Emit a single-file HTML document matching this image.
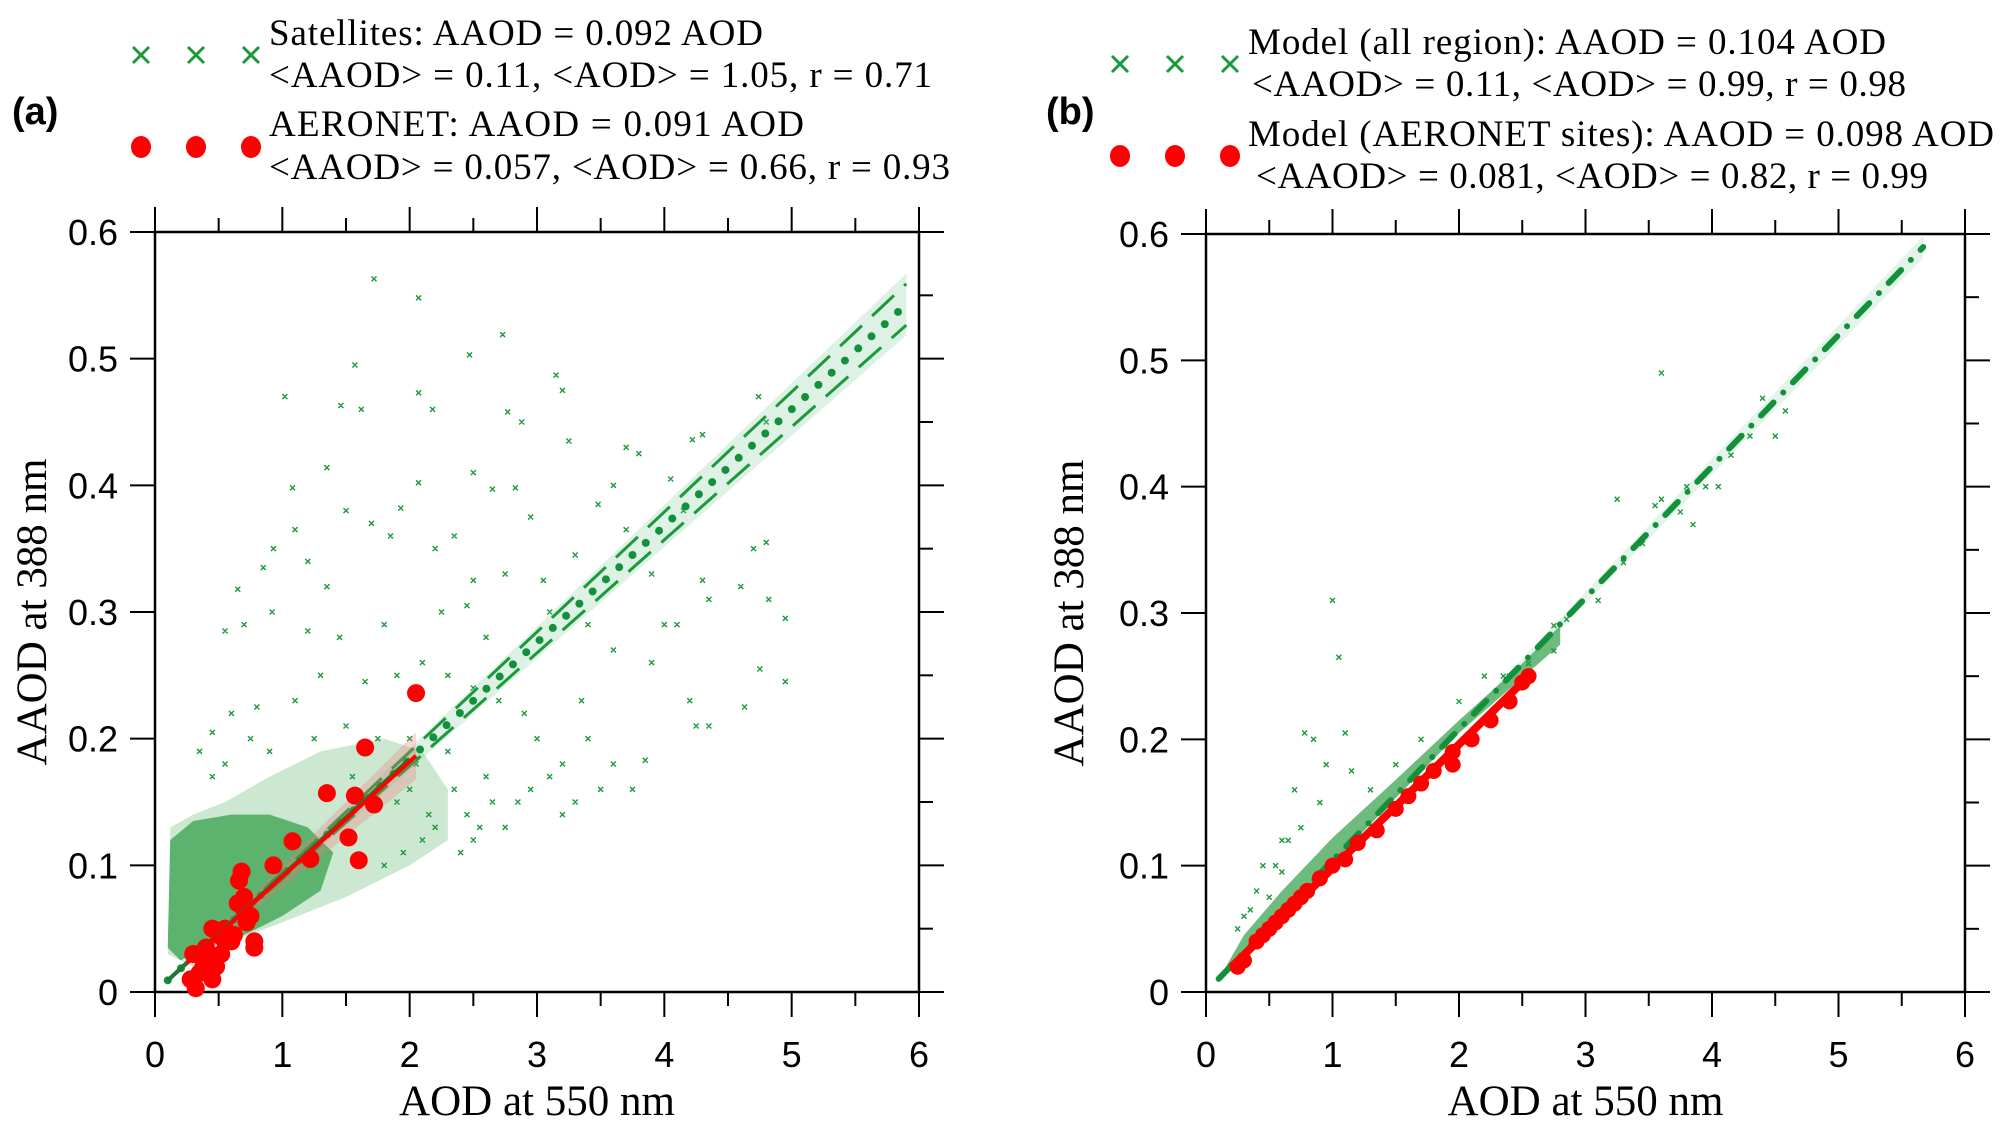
<!DOCTYPE html>
<html><head><meta charset="utf-8"><style>
html,body{margin:0;padding:0;background:#fff}
svg{display:block}
.tl{font-family:"Liberation Sans",sans-serif;font-size:36px;fill:#000}
.at{font-family:"Liberation Serif",serif;font-size:43px;fill:#000}
.lg{font-family:"Liberation Serif",serif;font-size:37px;fill:#000}
.pl{font-family:"Liberation Sans",sans-serif;font-size:38px;font-weight:bold;fill:#000}
</style></head><body>
<svg id="chart" width="2009" height="1137" viewBox="0 0 2009 1137" xmlns="http://www.w3.org/2000/svg">
<g id="panelA"></g>
<g id="panelB"></g>
<g>
 <text class="pl" x="12" y="124">(a)</text>
 <g stroke="#1a9a3a" stroke-width="3">
  <path d="M133 47 l16 16 M149 47 l-16 16 M188 47 l16 16 M204 47 l-16 16 M243 47 l16 16 M259 47 l-16 16"/>
 </g>
 <text class="lg" x="269" y="45" textLength="494">Satellites: AAOD = 0.092 AOD</text>
 <text class="lg" x="269" y="87" textLength="663">&lt;AAOD&gt; = 0.11, &lt;AOD&gt; = 1.05,  r = 0.71</text>
 <g fill="#f00">
  <ellipse cx="141" cy="147" rx="10" ry="11"/><ellipse cx="196" cy="147" rx="10" ry="11"/><ellipse cx="251" cy="147" rx="10" ry="11"/>
 </g>
 <text class="lg" x="269" y="136" textLength="535">AERONET: AAOD = 0.091 AOD</text>
 <text class="lg" x="269" y="179" textLength="681">&lt;AAOD&gt; = 0.057, &lt;AOD&gt; = 0.66, r = 0.93</text>
</g>
<g>
 <text class="pl" x="1046" y="124">(b)</text>
 <g stroke="#1a9a3a" stroke-width="3">
  <path d="M1112 56 l16 16 M1128 56 l-16 16 M1167 56 l16 16 M1183 56 l-16 16 M1222 56 l16 16 M1238 56 l-16 16"/>
 </g>
 <text class="lg" x="1248" y="54" textLength="638">Model (all region): AAOD = 0.104 AOD</text>
 <text class="lg" x="1252" y="96" textLength="654">&lt;AAOD&gt; = 0.11, &lt;AOD&gt; = 0.99, r = 0.98</text>
 <g fill="#f00">
  <ellipse cx="1120" cy="156" rx="10" ry="11"/><ellipse cx="1175" cy="156" rx="10" ry="11"/><ellipse cx="1230" cy="156" rx="10" ry="11"/>
 </g>
 <text class="lg" x="1248" y="146" textLength="746">Model (AERONET sites): AAOD = 0.098 AOD</text>
 <text class="lg" x="1256" y="188" textLength="672">&lt;AAOD&gt; = 0.081, &lt;AOD&gt; = 0.82, r = 0.99</text>
</g>
</svg>
<script>
const NS="http://www.w3.org/2000/svg";
const xTicks=[0,1,2,3,4,5,6];
const yTicks=[0,0.1,0.2,0.3,0.4,0.5,0.6];
const yTickLabels=["0","0.1","0.2","0.3","0.4","0.5","0.6"];
// Panel A data
const aSlopeSat=0.092, aSlopeAer=0.091;
const aSatRange=[0.1,5.9], aAerRange=[0.25,2.05];
const aSparseX=[1.72,2.07,1.57,2.47,2.73,1.02,1.46,1.62,2.07,2.18,2.77,2.88,3.15,3.2,1.08,1.35,2.07,1.93,2.5,2.65,2.83,2.95,3.25,3.7,3.8,3.6,3.48,4.22,4.3,4.05,4.15,4.74,4.8,0.93,1.1,1.2,0.85,0.55,0.65,1.35,1.5,1.7,1.85,2.2,2.35,2.5,2.75,3.05,3.3,3.7,3.9,4.3,4.35,4.6,4.7,4.8,4.82,4.95,0.7,0.92,1.2,1.45,1.8,2.25,2.45,2.6,3.1,3.4,4.0,4.1,3.6,3.9,4.2,4.25,4.35,4.63,4.75,4.95,3.85,3.5,3.2,3.0,3.4,2.9,2.7,2.5,2.3,2.1,1.9,1.65,1.3,1.1,0.8,0.6,0.45,0.55,0.75,1.5,2.0,2.3,2.6,2.85,3.1,3.3,2.75,2.5,2.4,2.2,2.1,1.9,2.0,1.75,1.25,0.9,3.35,3.6,3.75,2.35,2.45,2.15,1.95,1.8,2.55,2.65,2.95,3.2,2.05,1.55,1.35,0.35,0.45];
const aSparseY=[0.563,0.548,0.495,0.503,0.519,0.47,0.463,0.46,0.473,0.46,0.458,0.45,0.487,0.475,0.398,0.414,0.402,0.382,0.41,0.397,0.398,0.375,0.435,0.43,0.425,0.4,0.385,0.436,0.44,0.405,0.38,0.47,0.45,0.35,0.365,0.34,0.335,0.285,0.318,0.32,0.38,0.37,0.36,0.35,0.36,0.325,0.33,0.325,0.345,0.365,0.33,0.325,0.31,0.32,0.35,0.355,0.31,0.295,0.29,0.3,0.285,0.28,0.29,0.3,0.305,0.28,0.3,0.29,0.29,0.29,0.27,0.26,0.23,0.21,0.21,0.225,0.255,0.245,0.183,0.16,0.18,0.2,0.2,0.22,0.23,0.24,0.25,0.26,0.25,0.245,0.25,0.23,0.225,0.22,0.205,0.18,0.2,0.21,0.2,0.19,0.17,0.15,0.17,0.15,0.13,0.12,0.11,0.13,0.12,0.15,0.16,0.2,0.2,0.19,0.23,0.18,0.16,0.16,0.14,0.14,0.11,0.1,0.13,0.15,0.16,0.14,0.18,0.17,0.16,0.19,0.17];
const aOuterX=[0.1,0.12,0.3,0.55,0.9,1.3,1.8,2.1,2.3,2.3,2.0,1.5,1.0,0.6,0.3];
const aOuterY=[0.03,0.13,0.14,0.15,0.17,0.19,0.2,0.19,0.16,0.12,0.1,0.075,0.055,0.04,0.02];
const aCoreX=[0.1,0.12,0.3,0.6,0.9,1.2,1.4,1.3,1.0,0.7,0.4,0.2];
const aCoreY=[0.035,0.12,0.135,0.14,0.14,0.13,0.11,0.08,0.06,0.045,0.035,0.025];
const aRedX=[2.05,1.65,1.35,1.57,1.72,1.52,1.08,1.22,1.6,0.93,0.68,0.66,0.7,0.65,0.75,0.78,0.78,0.45,0.5,0.55,0.6,0.52,0.4,0.35,0.3,0.28,0.32,0.38,0.45,0.48,0.35,0.42,0.55,0.62,0.7,0.72];
const aRedY=[0.236,0.193,0.157,0.155,0.148,0.122,0.119,0.105,0.104,0.1,0.095,0.088,0.075,0.07,0.06,0.04,0.035,0.05,0.045,0.04,0.04,0.03,0.035,0.03,0.03,0.01,0.003,0.02,0.01,0.02,0.015,0.025,0.05,0.045,0.065,0.055];
// Panel B data
const bSlopeAll=0.104, bSlopeAer=0.098;
const bAllRange=[0.1,5.67], bAerRange=[0.2,2.55];
const bBandX=[0.1,0.3,0.6,1.0,1.5,2.0,2.5,2.8,2.8,2.0,1.0,0.3];
const bBandY=[0.01,0.045,0.08,0.122,0.168,0.215,0.26,0.29,0.275,0.205,0.102,0.028];
const bSparseX=[0.45,0.6,0.7,0.78,0.85,0.95,1.0,1.05,1.1,1.15,0.9,0.5,0.35,0.55,0.65,2.35,2.4,2.55,2.75,2.85,2.75,3.1,3.3,3.6,3.55,3.75,3.8,4.05,4.15,4.3,4.4,3.6,3.25,3.85,4.5,4.58,3.45,3.95,0.3,0.4,0.25,0.6,0.75,1.3,1.5,1.7,2.0,2.2];
const bSparseY=[0.1,0.12,0.16,0.205,0.2,0.18,0.31,0.265,0.205,0.175,0.15,0.075,0.065,0.1,0.12,0.25,0.25,0.26,0.29,0.295,0.27,0.31,0.34,0.39,0.385,0.38,0.4,0.4,0.425,0.44,0.47,0.49,0.39,0.37,0.44,0.46,0.355,0.4,0.06,0.08,0.05,0.095,0.13,0.16,0.18,0.2,0.23,0.25];
const bRedX=[0.25,0.3,0.4,0.45,0.5,0.55,0.6,0.65,0.7,0.75,0.8,0.9,1.0,1.1,1.2,1.35,1.5,1.6,1.7,1.8,1.95,1.95,2.1,2.25,2.4,2.5,2.55];
const bRedY=[0.02,0.025,0.04,0.045,0.05,0.055,0.06,0.065,0.07,0.075,0.08,0.09,0.1,0.105,0.118,0.128,0.145,0.155,0.165,0.175,0.18,0.19,0.2,0.215,0.23,0.245,0.25];

function el(tag,attrs,parent){const e=document.createElementNS(NS,tag);for(const k in attrs)e.setAttribute(k,attrs[k]);parent.appendChild(e);return e;}

function axes(g,L,R,B,T,xtitleY,ytitleX){
  const sx=v=>L+(R-L)*v/6, sy=v=>B-(B-T)*v/0.6;
  const ax=el('g',{},g);
  
  
  el('rect',{x:L,y:T,width:R-L,height:B-T,fill:'none',stroke:'#000','stroke-width':2.5},ax);
  for(let i=0;i<=12;i++){const v=i/2,x=sx(v),len=i%2?14:25;
    el('line',{x1:x,y1:B,x2:x,y2:B+len,stroke:'#000','stroke-width':2},ax);
    el('line',{x1:x,y1:T,x2:x,y2:T-len,stroke:'#000','stroke-width':2},ax);}
  for(let i=0;i<=12;i++){const v=i*0.05,y=sy(v),len=i%2?14:25;
    el('line',{x1:R,y1:y,x2:R+len,y2:y,stroke:'#000','stroke-width':2},ax);
    if(i%2==0) el('line',{x1:L,y1:y,x2:L-25,y2:y,stroke:'#000','stroke-width':2},ax);}
  xTicks.forEach(v=>{const t=el('text',{x:sx(v),y:B+75,'text-anchor':'middle',class:'tl'},ax);t.textContent=String(v);
    
    });
  yTicks.forEach((v,i)=>{const t=el('text',{x:L-37,y:sy(v)+13,'text-anchor':'end',class:'tl'},ax);t.textContent=yTickLabels[i];
    
    });
  const xt=el('text',{x:(L+R)/2,y:xtitleY,'text-anchor':'middle',class:'at'},ax);xt.textContent='AOD at 550 nm';
  
  
  const yt=el('text',{x:0,y:0,'text-anchor':'middle',class:'at',transform:`translate(${ytitleX},${(T+B)/2}) rotate(-90)`},ax);yt.textContent='AAOD at 388 nm';
  
  
  return {sx,sy};
}
function poly(g,xs,ys,s,attrs,name){const p=el('polygon',Object.assign({points:xs.map((x,i)=>s.sx(x)+','+s.sy(ys[i])).join(' ')},attrs),g);
  
  return p;}
function crosses(g,xs,ys,s,name){let d='';xs.forEach((x,i)=>{const X=s.sx(x),Y=s.sy(ys[i]);d+=`M${X-2.5} ${Y-2.5}l5 5M${X+2.5} ${Y-2.5}l-5 5`;});
  const p=el('path',{d,stroke:'#1a9a3a','stroke-width':1.4,fill:'none'},g);
  
  }
function dots(g,xs,ys,s,r,name){const gg=el('g',{fill:'#f00'},g);
  
  
  xs.forEach((x,i)=>{const c=el('circle',{cx:s.sx(x),cy:s.sy(ys[i]),r},gg);
    
    });}
function line(g,s,slope,r,attrs,name){const l=el('line',Object.assign({x1:s.sx(r[0]),y1:s.sy(slope*r[0]),x2:s.sx(r[1]),y2:s.sy(slope*r[1])},attrs),g);
  
  }
function band(g,s,sl,sh,r,fill,name){const p=el('polygon',{points:`${s.sx(r[0])},${s.sy(sh*r[0])} ${s.sx(r[1])},${s.sy(sh*r[1])} ${s.sx(r[1])},${s.sy(sl*r[1])} ${s.sx(r[0])},${s.sy(sl*r[0])}`,fill},g);
  
  }

// Panel A
(function(){const g=document.getElementById('panelA');
 const s=axes(g,155,919,992,232,1115,46);
 poly(g,aOuterX,aOuterY,s,{fill:'#6cbc78','fill-opacity':0.35},'satellite-scatter-sparse-cloud');
 poly(g,aCoreX,aCoreY,s,{fill:'#2f9e46','fill-opacity':0.72},'satellite-scatter-dense-cloud');
 crosses(g,aSparseX,aSparseY,s,'satellite-points');
 band(g,s,aSlopeSat*0.955,aSlopeSat*1.045,aSatRange,'rgba(120,200,150,0.25)','satellite-fit-band');
 line(g,s,aSlopeSat*0.97,aSatRange,{stroke:'#1a9a3a','stroke-width':3,'stroke-dasharray':'30 14'},'satellite-fit-lower');
 line(g,s,aSlopeSat*1.03,aSatRange,{stroke:'#1a9a3a','stroke-width':3,'stroke-dasharray':'30 14'},'satellite-fit-upper');
 line(g,s,aSlopeSat,aSatRange,{stroke:'#13913a','stroke-width':8,'stroke-linecap':'round','stroke-dasharray':'0 18'},'satellite-fit-line');
 band(g,s,aSlopeAer*0.9,aSlopeAer*1.1,aAerRange,'rgba(240,120,120,0.3)','aeronet-fit-band');
 dots(g,aRedX,aRedY,s,9,'aeronet-points');
 line(g,s,aSlopeSat,[0.1,2.0],{stroke:'#1a7a30','stroke-width':4},'satellite-fit-solid');
 line(g,s,aSlopeAer,aAerRange,{stroke:'#f00','stroke-width':4},'aeronet-fit-line');
})();
// Panel B
(function(){const g=document.getElementById('panelB');
 const s=axes(g,1206,1965,992,234,1115,1083);
 band(g,s,bSlopeAll*0.985,bSlopeAll*1.015,bAllRange,'rgba(120,200,150,0.2)','model-all-fit-band');
 poly(g,bBandX,bBandY,s,{fill:'#2f9e46','fill-opacity':0.7},'model-all-dense-points');
 crosses(g,bSparseX,bSparseY,s,'model-all-points');
 line(g,s,bSlopeAll,bAllRange,{stroke:'#13913a','stroke-width':6,'stroke-linecap':'round','stroke-dasharray':'18 14 0 14'},'model-all-fit-line');
 line(g,s,bSlopeAer,bAerRange,{stroke:'#f00','stroke-width':8},'model-aeronet-fit-line');
 dots(g,bRedX,bRedY,s,8,'model-aeronet-points');
})();
</script>
</body></html>
